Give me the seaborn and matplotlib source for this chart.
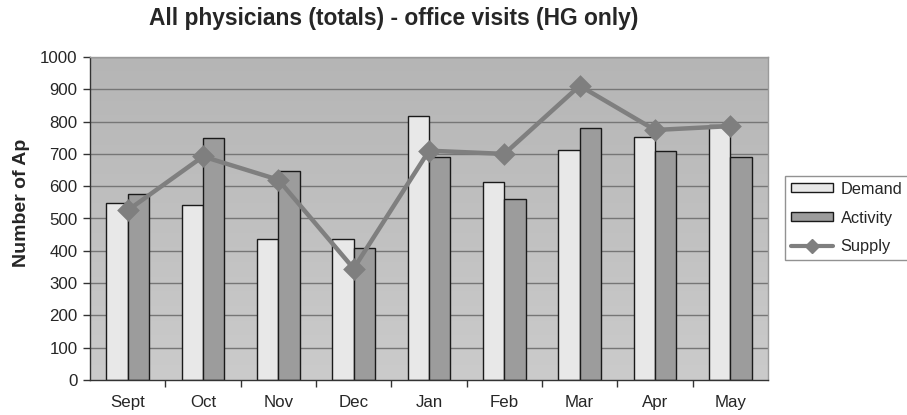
import numpy as np
import pandas as pd
import matplotlib
matplotlib.use("Agg")
import matplotlib.pyplot as plt
from matplotlib.patches import Patch
from matplotlib.lines import Line2D
import seaborn as sns

months = ["Sept", "Oct", "Nov", "Dec", "Jan", "Feb", "Mar", "Apr", "May"]
demand = [548, 542, 437, 437, 818, 613, 713, 752, 791]
activity = [577, 749, 647, 408, 689, 561, 781, 708, 689]
supply = [525, 692, 620, 345, 710, 700, 911, 774, 786]

yticks = list(range(0, 1001, 100))

sns.set_theme(style="white")
plt.rcParams["font.family"] = ["Liberation Sans", "DejaVu Sans"]
plt.rcParams["font.stretch"] = "normal"

bars = pd.DataFrame({
    "month": months * 2,
    "value": demand + activity,
    "series": ["Demand"] * len(months) + ["Activity"] * len(months),
})
line = pd.DataFrame({"month": months, "value": supply})

fig = plt.figure(figsize=(9.07, 4.15), dpi=100)
ax = fig.add_axes([90 / 907, 35 / 415, 678 / 907, 323 / 415])

# gradient plot-area fill, darker at the top
grad = np.linspace(0, 1, 256).reshape(-1, 1)
ax.imshow(grad, extent=[-0.5, 8.5, 0, 1000], aspect="auto", origin="lower",
          cmap=matplotlib.colors.LinearSegmentedColormap.from_list(
              "bg", ["#cbcbcb", "#b5b5b5"]), zorder=0)

for y in yticks[1:]:
    ax.axhline(y, color="#767676", lw=1.0, zorder=1)

sns.barplot(data=bars, x="month", y="value", hue="series",
            palette={"Demand": "#e8e8e8", "Activity": "#9c9c9c"},
            width=0.57, gap=0, edgecolor="#1a1a1a", linewidth=1.0,
            saturation=1, ax=ax, zorder=2, legend=False)

sns.pointplot(data=line, x="month", y="value", color="#7f7f7f",
              markers="D", markersize=9, linewidth=3.2, ax=ax, zorder=3)

ax.set_xlim(-0.5, 8.5)
ax.set_ylim(0, 1000)
ax.set_yticks(yticks)
ax.set_yticklabels([str(v) for v in yticks], fontsize=12.2)
ax.set_xticks(range(len(months)))
ax.set_xticklabels(months, fontsize=12.2)
ax.set_xticks(np.arange(0.5, 8.5, 1.0), minor=True)
ax.tick_params(axis="x", which="major", length=0, pad=11)
ax.tick_params(axis="x", which="minor", length=5, width=1, color="#333333",
               direction="out", bottom=True)
ax.tick_params(axis="y", length=5, width=1, color="#333333", direction="out",
               left=True, pad=4)
ax.set_xlabel("")
ax.set_ylabel("")

for side in ["left", "bottom"]:
    ax.spines[side].set_color("#333333")
    ax.spines[side].set_linewidth(1.0)
for side in ["top", "right"]:
    ax.spines[side].set_color("#9a9a9a")
    ax.spines[side].set_linewidth(1.0)

fig.text(394 / 907, 1 - 18 / 415,
         "All physicians (totals) - office visits (HG only)",
         ha="center", va="center", fontsize=16.4, fontweight="bold")
fig.text(22 / 907, 1 - 203 / 415, "Number of Ap", rotation=90,
         ha="center", va="center", fontsize=14, fontweight="bold")

handles = [
    Patch(facecolor="#e8e8e8", edgecolor="#1a1a1a", linewidth=1.0, label="Demand"),
    Patch(facecolor="#9c9c9c", edgecolor="#1a1a1a", linewidth=1.0, label="Activity"),
    Line2D([0], [0], color="#7f7f7f", lw=3, marker="D", markersize=7, label="Supply"),
]
leg = fig.legend(handles=handles, loc="center left",
                 bbox_to_anchor=(785 / 907, 1 - 218 / 415), fontsize=11.8,
                 frameon=True, fancybox=False, edgecolor="#777777",
                 handlelength=2.6, handleheight=0.5, borderpad=0.35,
                 labelspacing=0.85, handletextpad=0.45, borderaxespad=0)
leg.get_frame().set_linewidth(1.0)

fig.savefig("out.png", dpi=100, facecolor="white")
